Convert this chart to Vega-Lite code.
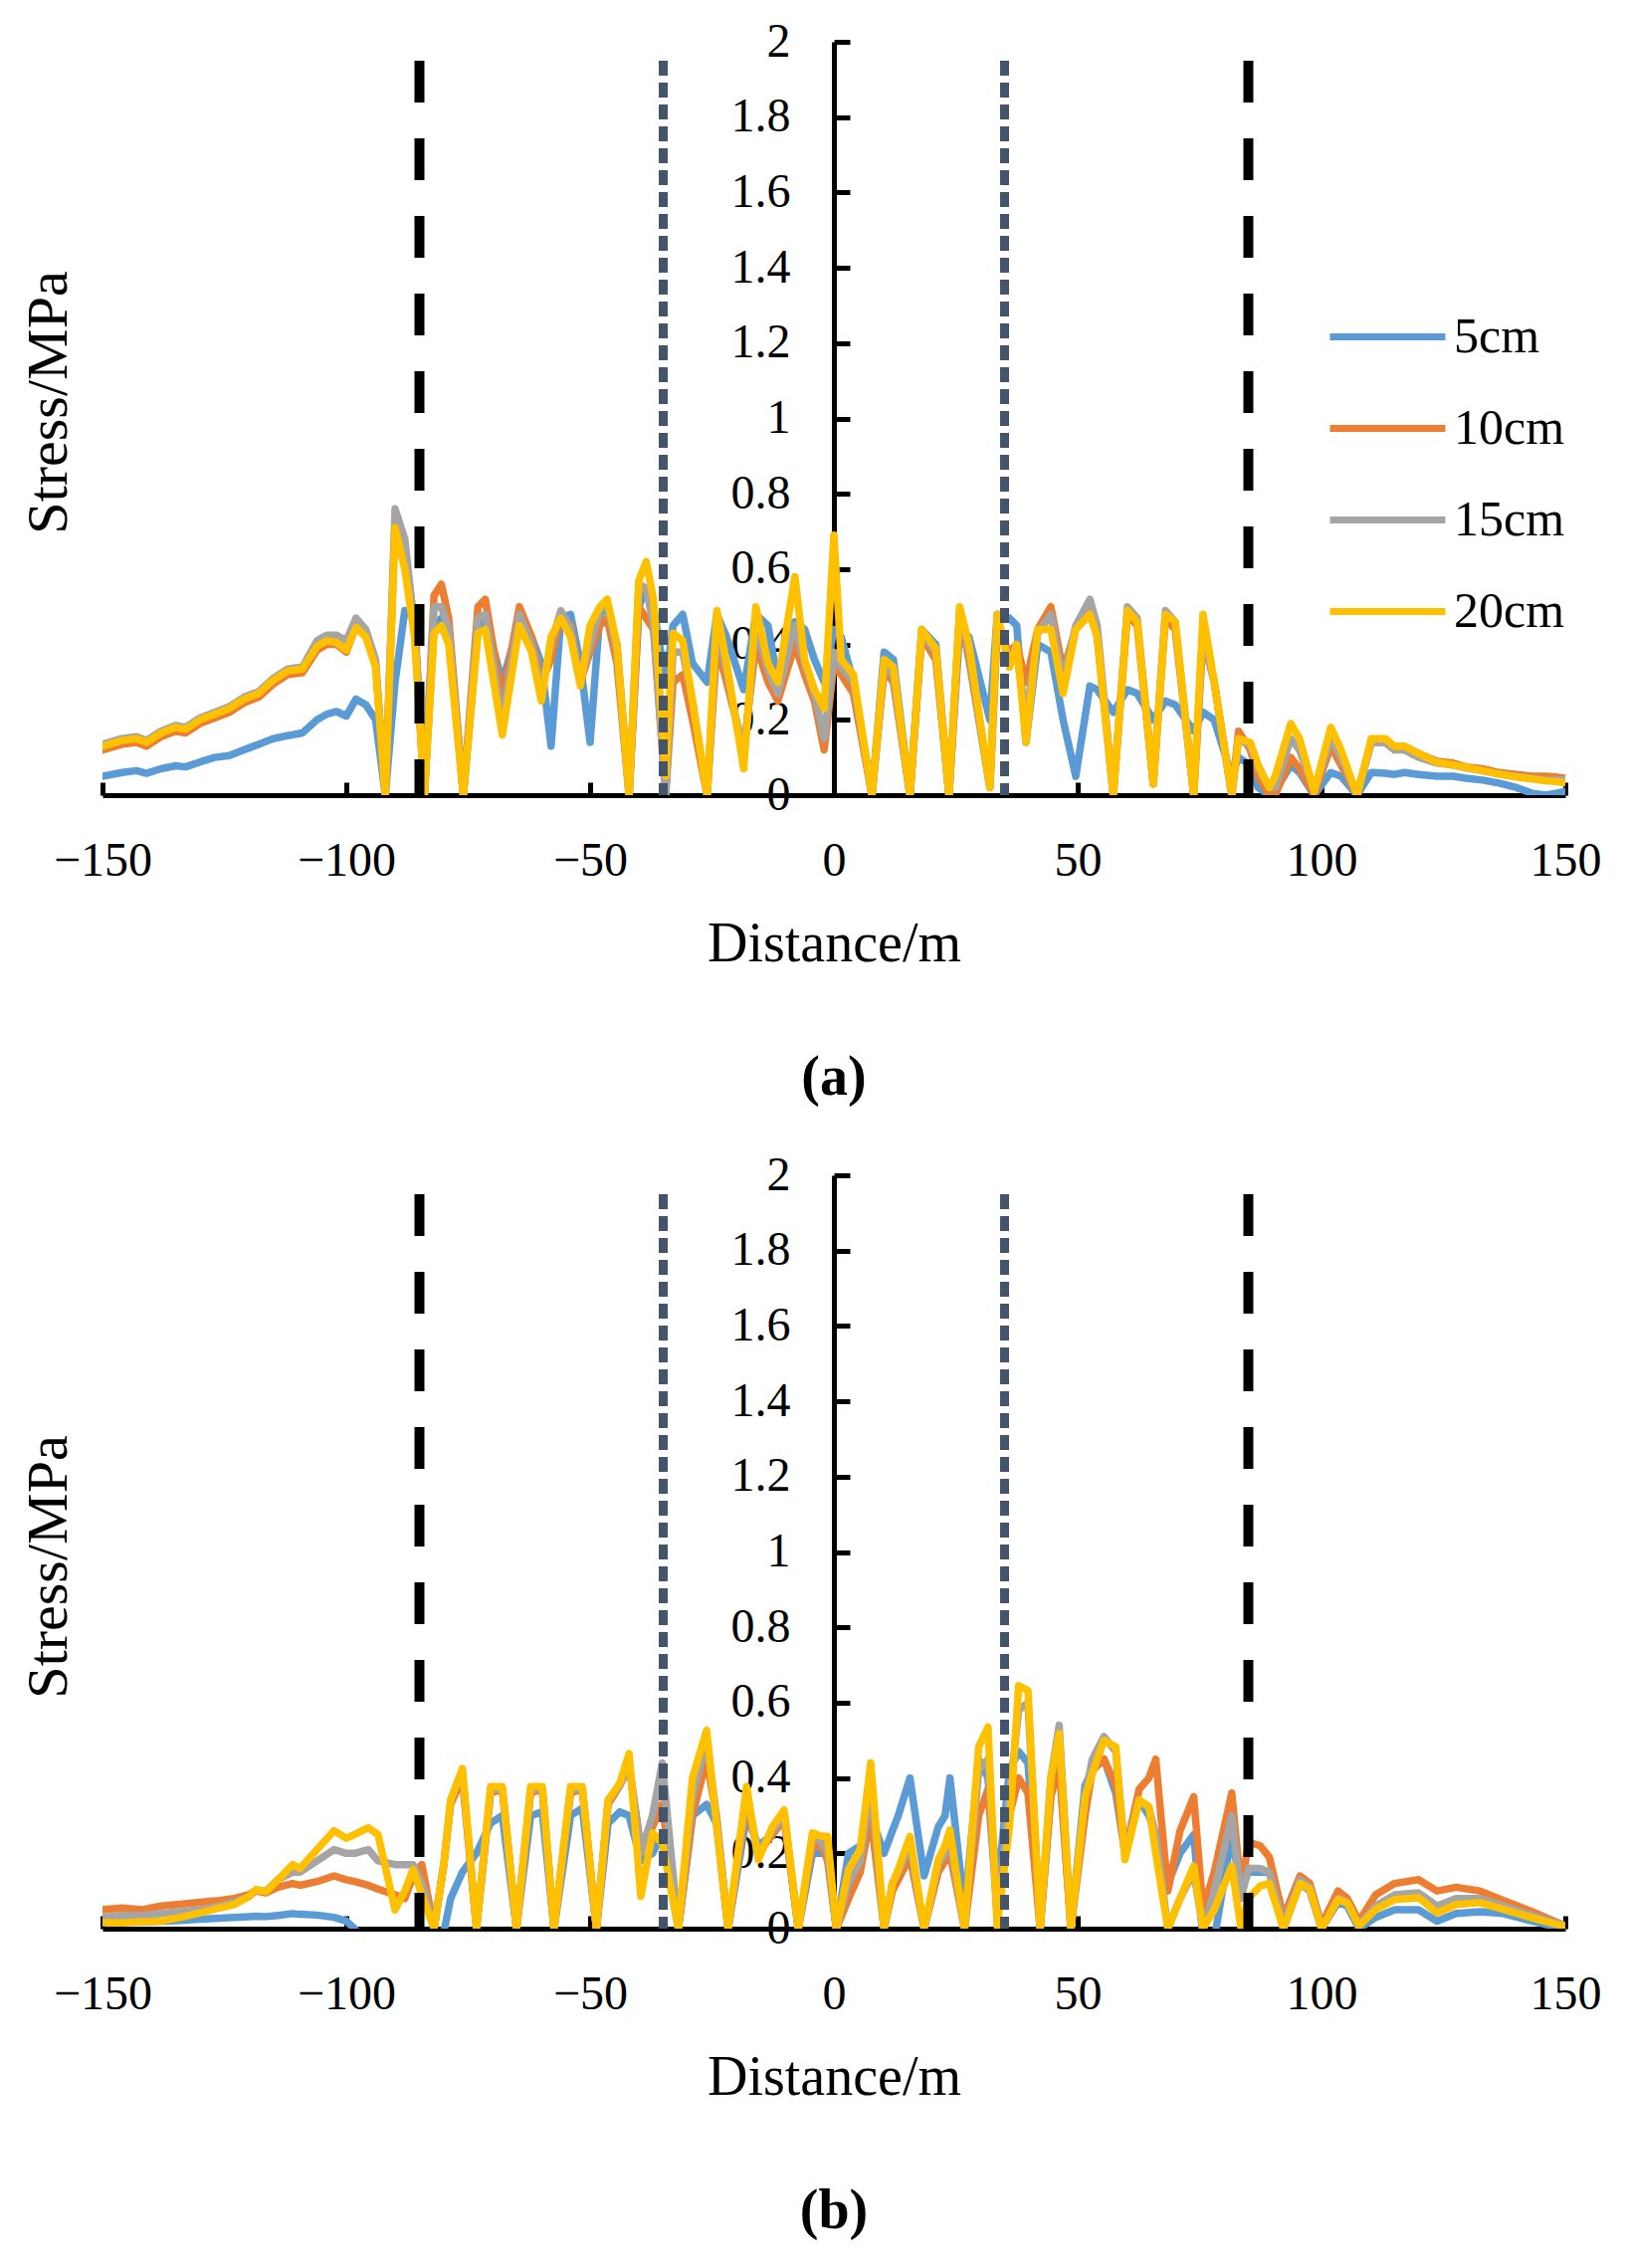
{
  "$schema": "https://vega.github.io/schema/vega-lite/v6.json",
  "background": "white",
  "padding": {"left": 20, "top": 18, "right": 5, "bottom": 5},
  "config": {"view": {"stroke": null}},
  "spacing": 382,
  "bounds": "flush",
  "datasets": {
    "guides": [
      {"x": -85, "kind": "outer"}, {"x": 85, "kind": "outer"},
      {"x": -35, "kind": "inner"}, {"x": 35, "kind": "inner"}
    ],
    "a": [
      {"x": -150, "5cm": 0.05, "10cm": 0.12, "15cm": 0.135, "20cm": 0.13},
      {"x": -146, "5cm": 0.06, "10cm": 0.135, "15cm": 0.15, "20cm": 0.145},
      {"x": -143, "5cm": 0.065, "10cm": 0.14, "15cm": 0.155, "20cm": 0.15},
      {"x": -141, "5cm": 0.058, "10cm": 0.13, "15cm": 0.145, "20cm": 0.14},
      {"x": -138, "5cm": 0.07, "10cm": 0.155, "15cm": 0.17, "20cm": 0.165},
      {"x": -135, "5cm": 0.078, "10cm": 0.17, "15cm": 0.185, "20cm": 0.18},
      {"x": -133, "5cm": 0.075, "10cm": 0.165, "15cm": 0.18, "20cm": 0.175},
      {"x": -130, "5cm": 0.088, "10cm": 0.19, "15cm": 0.205, "20cm": 0.2},
      {"x": -127, "5cm": 0.1, "10cm": 0.205, "15cm": 0.22, "20cm": 0.215},
      {"x": -124, "5cm": 0.105, "10cm": 0.22, "15cm": 0.235, "20cm": 0.23},
      {"x": -121, "5cm": 0.12, "10cm": 0.245, "15cm": 0.26, "20cm": 0.255},
      {"x": -118, "5cm": 0.135, "10cm": 0.26, "15cm": 0.275, "20cm": 0.27},
      {"x": -115, "5cm": 0.15, "10cm": 0.295, "15cm": 0.31, "20cm": 0.305},
      {"x": -112, "5cm": 0.158, "10cm": 0.32, "15cm": 0.335, "20cm": 0.33},
      {"x": -109, "5cm": 0.165, "10cm": 0.325, "15cm": 0.34, "20cm": 0.335},
      {"x": -106, "5cm": 0.2, "10cm": 0.385, "15cm": 0.41, "20cm": 0.395},
      {"x": -104, "5cm": 0.215, "10cm": 0.4, "15cm": 0.425, "20cm": 0.41},
      {"x": -102, "5cm": 0.222, "10cm": 0.4, "15cm": 0.425, "20cm": 0.405},
      {"x": -100, "5cm": 0.21, "10cm": 0.38, "15cm": 0.41, "20cm": 0.385},
      {"x": -98, "5cm": 0.255, "10cm": 0.45, "15cm": 0.47, "20cm": 0.445},
      {"x": -96, "5cm": 0.24, "10cm": 0.425, "15cm": 0.44, "20cm": 0.42},
      {"x": -94, "5cm": 0.2, "10cm": 0.35, "15cm": 0.36, "20cm": 0.34},
      {"x": -92, "5cm": 0, "10cm": 0, "15cm": 0, "20cm": 0},
      {"x": -90, "5cm": 0.3, "10cm": 0.72, "15cm": 0.76, "20cm": 0.71},
      {"x": -88, "5cm": 0.49, "10cm": 0.66, "15cm": 0.68, "20cm": 0.6},
      {"x": -86, "5cm": 0.47, "10cm": 0.45, "15cm": 0.44, "20cm": 0.42},
      {"x": -84, "5cm": 0, "10cm": 0, "15cm": 0, "20cm": 0},
      {"x": -82, "5cm": 0.45, "10cm": 0.53, "15cm": 0.5, "20cm": 0.43},
      {"x": -80.5, "5cm": 0.47, "10cm": 0.56, "15cm": 0.5, "20cm": 0.45},
      {"x": -79, "5cm": 0.43, "10cm": 0.47, "15cm": 0.44, "20cm": 0.4},
      {"x": -76, "5cm": 0, "10cm": 0, "15cm": 0, "20cm": 0},
      {"x": -73, "5cm": 0.44, "10cm": 0.5, "15cm": 0.47, "20cm": 0.43},
      {"x": -71.5, "5cm": 0.47, "10cm": 0.52, "15cm": 0.48, "20cm": 0.44},
      {"x": -68, "5cm": 0.3, "10cm": 0.25, "15cm": 0.2, "20cm": 0.16},
      {"x": -64.5, "5cm": 0.46, "10cm": 0.5, "15cm": 0.48, "20cm": 0.45},
      {"x": -62, "5cm": 0.42, "10cm": 0.42, "15cm": 0.4, "20cm": 0.38},
      {"x": -60, "5cm": 0.35, "10cm": 0.3, "15cm": 0.28, "20cm": 0.25},
      {"x": -58, "5cm": 0.13, "10cm": 0.36, "15cm": 0.4, "20cm": 0.42},
      {"x": -56, "5cm": 0.47, "10cm": 0.48, "15cm": 0.49, "20cm": 0.47},
      {"x": -54, "5cm": 0.48, "10cm": 0.45, "15cm": 0.44, "20cm": 0.42},
      {"x": -52, "5cm": 0.35, "10cm": 0.3, "15cm": 0.3, "20cm": 0.29},
      {"x": -50, "5cm": 0.14, "10cm": 0.38, "15cm": 0.4, "20cm": 0.45},
      {"x": -48, "5cm": 0.48, "10cm": 0.45, "15cm": 0.49, "20cm": 0.5},
      {"x": -46.5, "5cm": 0.5, "10cm": 0.47, "15cm": 0.51, "20cm": 0.52},
      {"x": -44.5, "5cm": 0.4, "10cm": 0.35, "15cm": 0.38, "20cm": 0.4},
      {"x": -42, "5cm": 0, "10cm": 0, "15cm": 0, "20cm": 0},
      {"x": -40, "5cm": 0.5, "10cm": 0.5, "15cm": 0.56, "20cm": 0.57},
      {"x": -38.5, "5cm": 0.55, "10cm": 0.47, "15cm": 0.55, "20cm": 0.62},
      {"x": -37, "5cm": 0.5, "10cm": 0.44, "15cm": 0.45, "20cm": 0.52},
      {"x": -34.5, "5cm": 0.3, "10cm": 0, "15cm": 0, "20cm": 0.05},
      {"x": -33, "5cm": 0.45, "10cm": 0.3, "15cm": 0.38, "20cm": 0.43},
      {"x": -31, "5cm": 0.48, "10cm": 0.32, "15cm": 0.38, "20cm": 0.41},
      {"x": -29, "5cm": 0.35, "10cm": 0.2, "15cm": 0.25, "20cm": 0.25},
      {"x": -26, "5cm": 0.3, "10cm": 0, "15cm": 0, "20cm": 0},
      {"x": -24, "5cm": 0.48, "10cm": 0.4, "15cm": 0.45, "20cm": 0.49},
      {"x": -22, "5cm": 0.42, "10cm": 0.3, "15cm": 0.33, "20cm": 0.35},
      {"x": -18.5, "5cm": 0.28, "10cm": 0.12, "15cm": 0.1, "20cm": 0.07},
      {"x": -16, "5cm": 0.48, "10cm": 0.4, "15cm": 0.45, "20cm": 0.5},
      {"x": -13.5, "5cm": 0.45, "10cm": 0.3, "15cm": 0.33, "20cm": 0.35},
      {"x": -11.5, "5cm": 0.3, "10cm": 0.25, "15cm": 0.27, "20cm": 0.3},
      {"x": -8, "5cm": 0.46, "10cm": 0.4, "15cm": 0.45, "20cm": 0.58},
      {"x": -6, "5cm": 0.44, "10cm": 0.32, "15cm": 0.35, "20cm": 0.36},
      {"x": -4, "5cm": 0.36, "10cm": 0.25, "15cm": 0.27, "20cm": 0.28},
      {"x": -2, "5cm": 0.3, "10cm": 0.12, "15cm": 0.15, "20cm": 0.23},
      {"x": 0, "5cm": 0.44, "10cm": 0.35, "15cm": 0.38, "20cm": 0.69},
      {"x": 1.5, "5cm": 0.42, "10cm": 0.32, "15cm": 0.34, "20cm": 0.36},
      {"x": 4, "5cm": 0.3, "10cm": 0.27, "15cm": 0.3, "20cm": 0.32},
      {"x": 7.8, "5cm": 0, "10cm": 0, "15cm": 0, "20cm": 0},
      {"x": 10.3, "5cm": 0.38, "10cm": 0.33, "15cm": 0.34, "20cm": 0.36},
      {"x": 12.2, "5cm": 0.36, "10cm": 0.3, "15cm": 0.32, "20cm": 0.34},
      {"x": 15.6, "5cm": 0, "10cm": 0, "15cm": 0, "20cm": 0},
      {"x": 18, "5cm": 0.44, "10cm": 0.42, "15cm": 0.43, "20cm": 0.44},
      {"x": 20.9, "5cm": 0.4, "10cm": 0.36, "15cm": 0.38, "20cm": 0.39},
      {"x": 23.6, "5cm": 0, "10cm": 0, "15cm": 0, "20cm": 0},
      {"x": 25.8, "5cm": 0.44, "10cm": 0.48, "15cm": 0.49, "20cm": 0.5},
      {"x": 27.7, "5cm": 0.42, "10cm": 0.36, "15cm": 0.38, "20cm": 0.4},
      {"x": 32, "5cm": 0.2, "10cm": 0.02, "15cm": 0.02, "20cm": 0.02},
      {"x": 33.5, "5cm": 0.48, "10cm": 0.44, "15cm": 0.47, "20cm": 0.48},
      {"x": 36, "5cm": 0.47, "10cm": 0.38, "15cm": 0.36, "20cm": 0.34},
      {"x": 37.5, "5cm": 0.45, "10cm": 0.4, "15cm": 0.38, "20cm": 0.4},
      {"x": 39.4, "5cm": 0.14, "10cm": 0.3, "15cm": 0.2, "20cm": 0.14},
      {"x": 41.8, "5cm": 0.4, "10cm": 0.44, "15cm": 0.43, "20cm": 0.44},
      {"x": 44.5, "5cm": 0.38, "10cm": 0.5, "15cm": 0.48, "20cm": 0.44},
      {"x": 47, "5cm": 0.2, "10cm": 0.33, "15cm": 0.3, "20cm": 0.27},
      {"x": 49.6, "5cm": 0.05, "10cm": 0.44, "15cm": 0.45, "20cm": 0.44},
      {"x": 52.5, "5cm": 0.29, "10cm": 0.5, "15cm": 0.52, "20cm": 0.48},
      {"x": 54, "5cm": 0.28, "10cm": 0.42, "15cm": 0.45, "20cm": 0.42},
      {"x": 57.3, "5cm": 0.22, "10cm": 0, "15cm": 0, "20cm": 0},
      {"x": 60.2, "5cm": 0.28, "10cm": 0.48, "15cm": 0.5, "20cm": 0.49},
      {"x": 62.2, "5cm": 0.27, "10cm": 0.45, "15cm": 0.47, "20cm": 0.46},
      {"x": 65.5, "5cm": 0.2, "10cm": 0.03, "15cm": 0.03, "20cm": 0.03},
      {"x": 68, "5cm": 0.25, "10cm": 0.47, "15cm": 0.49, "20cm": 0.48},
      {"x": 70, "5cm": 0.24, "10cm": 0.44, "15cm": 0.46, "20cm": 0.46},
      {"x": 73.8, "5cm": 0.17, "10cm": 0, "15cm": 0, "20cm": 0},
      {"x": 75.7, "5cm": 0.22, "10cm": 0.42, "15cm": 0.44, "20cm": 0.48},
      {"x": 78, "5cm": 0.2, "10cm": 0.3, "15cm": 0.3, "20cm": 0.3},
      {"x": 81.6, "5cm": 0.05, "10cm": 0, "15cm": 0, "20cm": 0},
      {"x": 83, "5cm": 0.1, "10cm": 0.17, "15cm": 0.15, "20cm": 0.15},
      {"x": 85.4, "5cm": 0.08, "10cm": 0.12, "15cm": 0.13, "20cm": 0.14},
      {"x": 87, "5cm": 0.02, "10cm": 0.05, "15cm": 0.07, "20cm": 0.08},
      {"x": 89.3, "5cm": 0, "10cm": 0, "15cm": 0.02, "20cm": 0.02},
      {"x": 90.5, "5cm": 0.01, "10cm": 0, "15cm": 0.02, "20cm": 0.05},
      {"x": 93.7, "5cm": 0.08, "10cm": 0.1, "15cm": 0.15, "20cm": 0.19},
      {"x": 95.5, "5cm": 0.06, "10cm": 0.07, "15cm": 0.12, "20cm": 0.15},
      {"x": 98.5, "5cm": 0, "10cm": 0, "15cm": 0.01, "20cm": 0.01},
      {"x": 101.9, "5cm": 0.06, "10cm": 0.13, "15cm": 0.15, "20cm": 0.18},
      {"x": 104, "5cm": 0.05, "10cm": 0.08, "15cm": 0.1, "20cm": 0.12},
      {"x": 107.3, "5cm": 0, "10cm": 0, "15cm": 0, "20cm": 0},
      {"x": 110.2, "5cm": 0.06, "10cm": 0.14, "15cm": 0.14, "20cm": 0.15},
      {"x": 113.1, "5cm": 0.058, "10cm": 0.14, "15cm": 0.14, "20cm": 0.15},
      {"x": 115, "5cm": 0.055, "10cm": 0.12, "15cm": 0.12, "20cm": 0.13},
      {"x": 117, "5cm": 0.06, "10cm": 0.13, "15cm": 0.12, "20cm": 0.13},
      {"x": 120, "5cm": 0.055, "10cm": 0.11, "15cm": 0.1, "20cm": 0.11},
      {"x": 123.7, "5cm": 0.05, "10cm": 0.09, "15cm": 0.085, "20cm": 0.087},
      {"x": 127, "5cm": 0.05, "10cm": 0.085, "15cm": 0.08, "20cm": 0.08},
      {"x": 129.6, "5cm": 0.045, "10cm": 0.075, "15cm": 0.072, "20cm": 0.074},
      {"x": 133, "5cm": 0.04, "10cm": 0.07, "15cm": 0.065, "20cm": 0.065},
      {"x": 136.4, "5cm": 0.032, "10cm": 0.06, "15cm": 0.056, "20cm": 0.056},
      {"x": 140, "5cm": 0.02, "10cm": 0.055, "15cm": 0.05, "20cm": 0.048},
      {"x": 143.2, "5cm": 0.005, "10cm": 0.05, "15cm": 0.045, "20cm": 0.043},
      {"x": 146, "5cm": 0, "10cm": 0.05, "15cm": 0.04, "20cm": 0.038},
      {"x": 148, "5cm": 0.005, "10cm": 0.048, "15cm": 0.04, "20cm": 0.036},
      {"x": 150, "5cm": 0.01, "10cm": 0.045, "15cm": 0.04, "20cm": 0.033}
    ],
    "b": [
      {"x": -150, "5cm": 0.02, "10cm": 0.05, "15cm": 0.03, "20cm": 0.016},
      {"x": -146, "5cm": 0.02, "10cm": 0.055, "15cm": 0.035, "20cm": 0.015},
      {"x": -142, "5cm": 0.018, "10cm": 0.05, "15cm": 0.035, "20cm": 0.018},
      {"x": -138, "5cm": 0.02, "10cm": 0.06, "15cm": 0.04, "20cm": 0.02},
      {"x": -134, "5cm": 0.022, "10cm": 0.065, "15cm": 0.045, "20cm": 0.03},
      {"x": -130, "5cm": 0.025, "10cm": 0.07, "15cm": 0.05, "20cm": 0.042},
      {"x": -126, "5cm": 0.028, "10cm": 0.075, "15cm": 0.06, "20cm": 0.055},
      {"x": -123, "5cm": 0.03, "10cm": 0.08, "15cm": 0.07, "20cm": 0.064},
      {"x": -120, "5cm": 0.032, "10cm": 0.09, "15cm": 0.085, "20cm": 0.085},
      {"x": -118.5, "5cm": 0.033, "10cm": 0.1, "15cm": 0.1, "20cm": 0.104},
      {"x": -116.5, "5cm": 0.032, "10cm": 0.095, "15cm": 0.1, "20cm": 0.098},
      {"x": -114, "5cm": 0.035, "10cm": 0.11, "15cm": 0.13, "20cm": 0.13},
      {"x": -111, "5cm": 0.04, "10cm": 0.12, "15cm": 0.15, "20cm": 0.17},
      {"x": -109.5, "5cm": 0.038, "10cm": 0.115, "15cm": 0.15, "20cm": 0.16},
      {"x": -106, "5cm": 0.036, "10cm": 0.125, "15cm": 0.18, "20cm": 0.21},
      {"x": -102.5, "5cm": 0.03, "10cm": 0.14, "15cm": 0.21, "20cm": 0.26},
      {"x": -100, "5cm": 0.02, "10cm": 0.13, "15cm": 0.2, "20cm": 0.24},
      {"x": -98.3, "5cm": 0, "10cm": 0.125, "15cm": 0.2, "20cm": 0.25},
      {"x": -95.5, "5cm": -0.05, "10cm": 0.115, "15cm": 0.21, "20cm": 0.268},
      {"x": -93.5, "5cm": -0.05, "10cm": 0.105, "15cm": 0.18, "20cm": 0.25},
      {"x": -90, "5cm": -0.05, "10cm": 0.09, "15cm": 0.17, "20cm": 0.05},
      {"x": -88, "5cm": -0.05, "10cm": 0.08, "15cm": 0.17, "20cm": 0.1},
      {"x": -86.3, "5cm": -0.05, "10cm": 0.14, "15cm": 0.17, "20cm": 0.157},
      {"x": -84.5, "5cm": -0.05, "10cm": 0.17, "15cm": 0.12, "20cm": 0.09},
      {"x": -82, "5cm": -0.05, "10cm": 0, "15cm": 0, "20cm": 0},
      {"x": -80, "5cm": -0.01, "10cm": 0.17, "15cm": 0.17, "20cm": 0.17},
      {"x": -78.6, "5cm": 0.08, "10cm": 0.33, "15cm": 0.34, "20cm": 0.342},
      {"x": -76.2, "5cm": 0.15, "10cm": 0.4, "15cm": 0.42, "20cm": 0.425},
      {"x": -73.3, "5cm": 0.2, "10cm": 0, "15cm": 0, "20cm": 0},
      {"x": -70.4, "5cm": 0.28, "10cm": 0.36, "15cm": 0.37, "20cm": 0.377},
      {"x": -68, "5cm": 0.3, "10cm": 0.37, "15cm": 0.37, "20cm": 0.377},
      {"x": -65.1, "5cm": 0, "10cm": 0, "15cm": 0, "20cm": 0},
      {"x": -62.2, "5cm": 0.3, "10cm": 0.36, "15cm": 0.37, "20cm": 0.377},
      {"x": -59.8, "5cm": 0.31, "10cm": 0.37, "15cm": 0.37, "20cm": 0.377},
      {"x": -57.4, "5cm": 0, "10cm": 0, "15cm": 0, "20cm": 0},
      {"x": -54, "5cm": 0.3, "10cm": 0.36, "15cm": 0.37, "20cm": 0.377},
      {"x": -51.6, "5cm": 0.32, "10cm": 0.37, "15cm": 0.37, "20cm": 0.377},
      {"x": -48.7, "5cm": 0, "10cm": 0, "15cm": 0, "20cm": 0},
      {"x": -46.3, "5cm": 0.28, "10cm": 0.33, "15cm": 0.34, "20cm": 0.342},
      {"x": -43.9, "5cm": 0.31, "10cm": 0.38, "15cm": 0.38, "20cm": 0.386},
      {"x": -42, "5cm": 0.3, "10cm": 0.43, "15cm": 0.44, "20cm": 0.465},
      {"x": -39.6, "5cm": 0.18, "10cm": 0.22, "15cm": 0.2, "20cm": 0.086},
      {"x": -37.2, "5cm": 0.2, "10cm": 0.27, "15cm": 0.3, "20cm": 0.254},
      {"x": -35.2, "5cm": 0.25, "10cm": 0.33, "15cm": 0.44, "20cm": 0.227},
      {"x": -31.9, "5cm": 0, "10cm": 0, "15cm": 0, "20cm": 0},
      {"x": -29, "5cm": 0.3, "10cm": 0.3, "15cm": 0.35, "20cm": 0.4},
      {"x": -26.1, "5cm": 0.33, "10cm": 0.45, "15cm": 0.5, "20cm": 0.527},
      {"x": -24.1, "5cm": 0.28, "10cm": 0.3, "15cm": 0.3, "20cm": 0.28},
      {"x": -21.7, "5cm": 0, "10cm": 0, "15cm": 0, "20cm": 0},
      {"x": -17.9, "5cm": 0.3, "10cm": 0.33, "15cm": 0.35, "20cm": 0.377},
      {"x": -15.5, "5cm": 0.22, "10cm": 0.2, "15cm": 0.2, "20cm": 0.183},
      {"x": -12.6, "5cm": 0.25, "10cm": 0.25, "15cm": 0.26, "20cm": 0.271},
      {"x": -10.2, "5cm": 0.3, "10cm": 0.29, "15cm": 0.3, "20cm": 0.315},
      {"x": -7.3, "5cm": 0, "10cm": 0, "15cm": 0, "20cm": 0},
      {"x": -4.4, "5cm": 0.2, "10cm": 0.22, "15cm": 0.24, "20cm": 0.254},
      {"x": -2.5, "5cm": 0.2, "10cm": 0.22, "15cm": 0.23, "20cm": 0.245},
      {"x": -1.3, "5cm": 0.2, "10cm": 0.18, "15cm": 0.2, "20cm": 0.245},
      {"x": 0.5, "5cm": 0, "10cm": 0, "15cm": 0, "20cm": 0},
      {"x": 3, "5cm": 0.2, "10cm": 0.08, "15cm": 0.12, "20cm": 0.157},
      {"x": 5.4, "5cm": 0.22, "10cm": 0.15, "15cm": 0.18, "20cm": 0.21},
      {"x": 7.55, "5cm": 0.3, "10cm": 0.3, "15cm": 0.38, "20cm": 0.44},
      {"x": 10.3, "5cm": 0.2, "10cm": 0, "15cm": 0, "20cm": 0},
      {"x": 12, "5cm": 0.26, "10cm": 0.1, "15cm": 0.12, "20cm": 0.12},
      {"x": 13.2, "5cm": 0.3, "10cm": 0.13, "15cm": 0.15, "20cm": 0.157},
      {"x": 15.6, "5cm": 0.4, "10cm": 0.19, "15cm": 0.22, "20cm": 0.245},
      {"x": 18.5, "5cm": 0.14, "10cm": 0, "15cm": 0, "20cm": 0},
      {"x": 21.4, "5cm": 0.27, "10cm": 0.15, "15cm": 0.17, "20cm": 0.183},
      {"x": 22.8, "5cm": 0.3, "10cm": 0.18, "15cm": 0.2, "20cm": 0.22},
      {"x": 23.8, "5cm": 0.4, "10cm": 0.2, "15cm": 0.23, "20cm": 0.262},
      {"x": 26.8, "5cm": 0.05, "10cm": 0, "15cm": 0, "20cm": 0},
      {"x": 29.7, "5cm": 0.45, "10cm": 0.3, "15cm": 0.42, "20cm": 0.483},
      {"x": 31.6, "5cm": 0.4, "10cm": 0.37, "15cm": 0.45, "20cm": 0.535},
      {"x": 33.5, "5cm": 0.1, "10cm": 0.05, "15cm": 0.02, "20cm": 0.007},
      {"x": 36, "5cm": 0.42, "10cm": 0.3, "15cm": 0.35, "20cm": 0.271},
      {"x": 37.9, "5cm": 0.47, "10cm": 0.4, "15cm": 0.58, "20cm": 0.645},
      {"x": 39.8, "5cm": 0.44, "10cm": 0.36, "15cm": 0.6, "20cm": 0.632},
      {"x": 42.3, "5cm": 0, "10cm": 0, "15cm": 0, "20cm": 0},
      {"x": 44.5, "5cm": 0.36, "10cm": 0.35, "15cm": 0.4, "20cm": 0.4},
      {"x": 46.2, "5cm": 0.45, "10cm": 0.44, "15cm": 0.54, "20cm": 0.518},
      {"x": 48.6, "5cm": 0, "10cm": 0, "15cm": 0, "20cm": 0},
      {"x": 51.5, "5cm": 0.38, "10cm": 0.3, "15cm": 0.35, "20cm": 0.35},
      {"x": 53, "5cm": 0.42, "10cm": 0.42, "15cm": 0.45, "20cm": 0.412},
      {"x": 55.4, "5cm": 0.45, "10cm": 0.45, "15cm": 0.51, "20cm": 0.5},
      {"x": 57.8, "5cm": 0.36, "10cm": 0.38, "15cm": 0.47, "20cm": 0.483},
      {"x": 59.7, "5cm": 0.2, "10cm": 0.2, "15cm": 0.2, "20cm": 0.183},
      {"x": 62.6, "5cm": 0.34, "10cm": 0.37, "15cm": 0.34, "20cm": 0.342},
      {"x": 64.6, "5cm": 0.3, "10cm": 0.4, "15cm": 0.32, "20cm": 0.324},
      {"x": 66, "5cm": 0.25, "10cm": 0.45, "15cm": 0.25, "20cm": 0.2},
      {"x": 68.5, "5cm": 0.12, "10cm": 0.1, "15cm": 0, "20cm": 0},
      {"x": 71, "5cm": 0.2, "10cm": 0.26, "15cm": 0.08, "20cm": 0.08},
      {"x": 73.8, "5cm": 0.25, "10cm": 0.35, "15cm": 0.15, "20cm": 0.166},
      {"x": 75.7, "5cm": -0.03, "10cm": 0.05, "15cm": 0, "20cm": 0},
      {"x": 78, "5cm": -0.03, "10cm": 0.15, "15cm": 0.1, "20cm": 0.05},
      {"x": 81.6, "5cm": 0.25, "10cm": 0.36, "15cm": 0.3, "20cm": 0.166},
      {"x": 83.5, "5cm": 0.1, "10cm": 0.1, "15cm": 0.08, "20cm": 0},
      {"x": 85, "5cm": 0.15, "10cm": 0.23, "15cm": 0.16, "20cm": 0.08},
      {"x": 87.4, "5cm": 0.15, "10cm": 0.22, "15cm": 0.16, "20cm": 0.113},
      {"x": 89.3, "5cm": 0.15, "10cm": 0.19, "15cm": 0.15, "20cm": 0.12},
      {"x": 92.2, "5cm": 0, "10cm": 0.03, "15cm": 0.01, "20cm": 0},
      {"x": 95.6, "5cm": 0.12, "10cm": 0.14, "15cm": 0.13, "20cm": 0.12},
      {"x": 97.6, "5cm": 0.1, "10cm": 0.12, "15cm": 0.11, "20cm": 0.105},
      {"x": 100, "5cm": 0, "10cm": 0.01, "15cm": 0, "20cm": 0},
      {"x": 103.4, "5cm": 0.07, "10cm": 0.1, "15cm": 0.08, "20cm": 0.077},
      {"x": 105.3, "5cm": 0.06, "10cm": 0.08, "15cm": 0.07, "20cm": 0.068},
      {"x": 107.7, "5cm": 0, "10cm": 0.02, "15cm": 0.01, "20cm": 0.007},
      {"x": 111.1, "5cm": 0.03, "10cm": 0.09, "15cm": 0.06, "20cm": 0.051},
      {"x": 115, "5cm": 0.05, "10cm": 0.12, "15cm": 0.09, "20cm": 0.077},
      {"x": 119.9, "5cm": 0.05, "10cm": 0.13, "15cm": 0.095, "20cm": 0.082},
      {"x": 123.7, "5cm": 0.02, "10cm": 0.1, "15cm": 0.06, "20cm": 0.042},
      {"x": 127.6, "5cm": 0.04, "10cm": 0.11, "15cm": 0.08, "20cm": 0.064},
      {"x": 132.5, "5cm": 0.045, "10cm": 0.1, "15cm": 0.08, "20cm": 0.069},
      {"x": 137.3, "5cm": 0.04, "10cm": 0.075, "15cm": 0.06, "20cm": 0.051},
      {"x": 143.2, "5cm": 0.02, "10cm": 0.045, "15cm": 0.035, "20cm": 0.029},
      {"x": 149.5, "5cm": 0, "10cm": 0.01, "15cm": 0.01, "20cm": 0.007}
    ]
  },
  "vconcat": [
    {
      "width": 1470,
      "height": 757,
      "title": {"text": "(a)", "orient": "bottom", "font": "Liberation Serif", "fontSize": 56, "fontWeight": "bold", "color": "black", "offset": 80},
      "layer": [
        {
          "data": {"name": "a"},
          "transform": [{"fold": ["5cm", "10cm", "15cm", "20cm"], "as": ["depth", "stress"]}],
          "mark": {"type": "line", "strokeWidth": 7.5, "strokeJoin": "round", "strokeCap": "round", "clip": true},
          "encoding": {
            "x": {
              "field": "x", "type": "quantitative",
              "scale": {"domain": [-150, 150], "nice": false},
              "axis": {
                "title": "Distance/m", "values": [-150, -100, -50, 0, 50, 100, 150],
                "labelFlush": false, "grid": false,
                "tickSize": -13, "tickWidth": 5, "tickColor": "black",
                "domainWidth": 5, "domainColor": "black",
                "labelFont": "Liberation Serif", "labelFontSize": 48, "labelColor": "black", "labelPadding": 55,
                "titleFont": "Liberation Serif", "titleFontSize": 56, "titleFontWeight": "normal", "titleColor": "black",
                "titleBaseline": "alphabetic", "titleY": 166
              }
            },
            "y": {
              "field": "stress", "type": "quantitative",
              "scale": {"domain": [0, 2], "nice": false},
              "axis": {
                "title": "Stress/MPa", "values": [0, 0.2, 0.4, 0.6, 0.8, 1, 1.2, 1.4, 1.6, 1.8, 2],
                "format": "~g", "grid": false, "offset": -735,
                "tickSize": -16, "tickWidth": 5, "tickColor": "black",
                "domainWidth": 5, "domainColor": "black",
                "labelFont": "Liberation Serif", "labelFontSize": 48, "labelColor": "black", "labelPadding": 60,
                "titleFont": "Liberation Serif", "titleFontSize": 58, "titleFontWeight": "normal", "titleColor": "black",
                "titleBaseline": "middle", "titleX": -789, "titleY": 362
              }
            },
            "color": {
              "field": "depth", "type": "nominal",
              "scale": {"domain": ["5cm", "10cm", "15cm", "20cm"], "range": ["#5B9BD5", "#ED7D31", "#A5A5A5", "#FFC000"]},
              "legend": {
                "title": null, "orient": "none", "legendX": 1230, "legendY": 235, "padding": 0,
                "symbolType": "stroke", "symbolSize": 13456, "symbolStrokeWidth": 7,
                "labelFont": "Liberation Serif", "labelFontSize": 50, "labelColor": "black", "labelOffset": 5,
                "rowPadding": 5
              }
            }
          }
        },
        {
          "data": {"name": "guides"},
          "transform": [{"filter": "datum.kind === 'outer'"}],
          "mark": {"type": "rule", "color": "black", "strokeWidth": 10, "strokeDash": [42, 36]},
          "encoding": {"x": {"field": "x", "type": "quantitative"}, "y": {"datum": 1.95}, "y2": {"datum": 0}}
        },
        {
          "data": {"name": "guides"},
          "transform": [{"filter": "datum.kind === 'inner'"}],
          "mark": {"type": "rule", "color": "#44546A", "strokeWidth": 9, "strokeDash": [15, 7]},
          "encoding": {"x": {"field": "x", "type": "quantitative"}, "y": {"datum": 1.95}, "y2": {"datum": 0}}
        }
      ]
    },
    {
      "width": 1470,
      "height": 757,
      "title": {"text": "(b)", "orient": "bottom", "font": "Liberation Serif", "fontSize": 56, "fontWeight": "bold", "color": "black", "offset": 80},
      "layer": [
        {
          "data": {"name": "b"},
          "transform": [{"fold": ["5cm", "10cm", "15cm", "20cm"], "as": ["depth", "stress"]}],
          "mark": {"type": "line", "strokeWidth": 7.5, "strokeJoin": "round", "strokeCap": "round", "clip": true},
          "encoding": {
            "x": {
              "field": "x", "type": "quantitative",
              "scale": {"domain": [-150, 150], "nice": false},
              "axis": {
                "title": "Distance/m", "values": [-150, -100, -50, 0, 50, 100, 150],
                "labelFlush": false, "grid": false,
                "tickSize": -13, "tickWidth": 5, "tickColor": "black",
                "domainWidth": 5, "domainColor": "black",
                "labelFont": "Liberation Serif", "labelFontSize": 48, "labelColor": "black", "labelPadding": 55,
                "titleFont": "Liberation Serif", "titleFontSize": 56, "titleFontWeight": "normal", "titleColor": "black",
                "titleBaseline": "alphabetic", "titleY": 166
              }
            },
            "y": {
              "field": "stress", "type": "quantitative",
              "scale": {"domain": [0, 2], "nice": false},
              "axis": {
                "title": "Stress/MPa", "values": [0, 0.2, 0.4, 0.6, 0.8, 1, 1.2, 1.4, 1.6, 1.8, 2],
                "format": "~g", "grid": false, "offset": -735,
                "tickSize": -16, "tickWidth": 5, "tickColor": "black",
                "domainWidth": 5, "domainColor": "black",
                "labelFont": "Liberation Serif", "labelFontSize": 48, "labelColor": "black", "labelPadding": 60,
                "titleFont": "Liberation Serif", "titleFontSize": 58, "titleFontWeight": "normal", "titleColor": "black",
                "titleBaseline": "middle", "titleX": -789, "titleY": 393
              }
            },
            "color": {
              "field": "depth", "type": "nominal",
              "scale": {"domain": ["5cm", "10cm", "15cm", "20cm"], "range": ["#5B9BD5", "#ED7D31", "#A5A5A5", "#FFC000"]},
              "legend": {
                "title": null, "orient": "none", "legendX": 1230, "legendY": 235, "padding": 0,
                "symbolType": "stroke", "symbolSize": 13456, "symbolStrokeWidth": 7,
                "labelFont": "Liberation Serif", "labelFontSize": 50, "labelColor": "black", "labelOffset": 5,
                "rowPadding": 5
              }
            }
          }
        },
        {
          "data": {"name": "guides"},
          "transform": [{"filter": "datum.kind === 'outer'"}],
          "mark": {"type": "rule", "color": "black", "strokeWidth": 10, "strokeDash": [42, 36]},
          "encoding": {"x": {"field": "x", "type": "quantitative"}, "y": {"datum": 1.95}, "y2": {"datum": 0}}
        },
        {
          "data": {"name": "guides"},
          "transform": [{"filter": "datum.kind === 'inner'"}],
          "mark": {"type": "rule", "color": "#44546A", "strokeWidth": 9, "strokeDash": [15, 7]},
          "encoding": {"x": {"field": "x", "type": "quantitative"}, "y": {"datum": 1.95}, "y2": {"datum": 0}}
        }
      ]
    }
  ]
}
